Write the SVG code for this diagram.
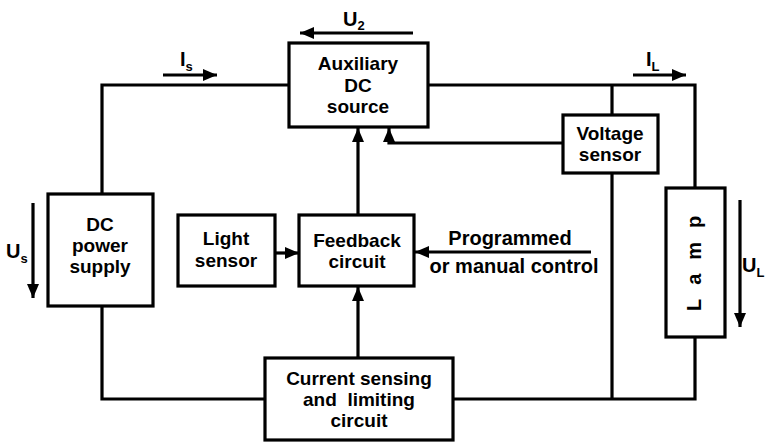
<svg xmlns="http://www.w3.org/2000/svg" width="766" height="442" viewBox="0 0 766 442">
<style>
.box{fill:#fff;stroke:#000;stroke-width:3.2}
.w{fill:none;stroke:#000;stroke-width:3.2}
.t{font-family:"Liberation Sans",Arial,sans-serif;font-weight:bold;font-size:19px;fill:#000;text-anchor:middle}
.l{font-family:"Liberation Sans",Arial,sans-serif;font-weight:bold;font-size:20px;fill:#000}
.sub{font-size:13px}
</style>
<defs>
<marker id="ah" markerUnits="userSpaceOnUse" markerWidth="14" markerHeight="12" refX="14" refY="6" orient="auto">
<path d="M0,0 L14,6 L0,12 z" fill="#000"/>
</marker>
</defs>
<rect width="766" height="442" fill="#fff"/>
<g id="connectors">
<polyline class="w" points="102,193 102,85 289,85"/>
<polyline class="w" points="428,85 695,85 695,188"/>
<line class="w" x1="612" y1="85" x2="612" y2="115"/>
<line class="w" x1="612" y1="173" x2="612" y2="399"/>
<polyline class="w" points="102,306 102,399 265,399"/>
<polyline class="w" points="453,399 695,399 695,337"/>
<polyline class="w" points="563,143 389,143 389,128" marker-end="url(#ah)"/>
<line class="w" x1="358" y1="215" x2="358" y2="128" marker-end="url(#ah)"/>
<line class="w" x1="358" y1="358" x2="358" y2="287" marker-end="url(#ah)"/>
<line class="w" x1="275" y1="253" x2="299" y2="253" marker-end="url(#ah)"/>
<line class="w" x1="591" y1="252" x2="415" y2="252" marker-end="url(#ah)"/>
<line class="w" x1="163" y1="75" x2="217" y2="75" marker-end="url(#ah)"/>
<line class="w" x1="633" y1="75" x2="686" y2="75" marker-end="url(#ah)"/>
<line class="w" x1="413" y1="33" x2="300" y2="33" marker-end="url(#ah)"/>
<line class="w" x1="33" y1="203" x2="33" y2="298" marker-end="url(#ah)"/>
<line class="w" x1="740" y1="200" x2="740" y2="327" marker-end="url(#ah)"/>
</g>
<g id="labels">
<text class="l" x="343" y="26">U<tspan class="sub" dy="4">2</tspan></text>
<text class="l" x="180" y="66">I<tspan class="sub" dy="5">s</tspan></text>
<text class="l" x="646" y="66">I<tspan class="sub" dy="5">L</tspan></text>
<text class="l" x="6" y="258">U<tspan class="sub" dy="5">s</tspan></text>
<text class="l" x="742" y="272">U<tspan class="sub" dy="5">L</tspan></text>
<text class="t" x="510" y="245" style="font-size:20px">Programmed</text>
<text class="t" x="514" y="273" style="font-size:20px">or manual control</text>
</g>
<g id="aux">
<rect class="box" x="289" y="43" width="139" height="84"/>
<text class="t" x="358" y="70">Auxiliary</text>
<text class="t" x="358" y="92">DC</text>
<text class="t" x="358" y="113">source</text>
</g>
<g id="dcpower">
<rect class="box" x="48" y="194" width="105" height="112"/>
<text class="t" x="100" y="231">DC</text>
<text class="t" x="100" y="252">power</text>
<text class="t" x="100" y="273">supply</text>
</g>
<g id="light">
<rect class="box" x="178" y="215" width="97" height="71"/>
<text class="t" x="226" y="245">Light</text>
<text class="t" x="226" y="267">sensor</text>
</g>
<g id="feedback">
<rect class="box" x="299" y="215" width="115" height="71"/>
<text class="t" x="357" y="247">Feedback</text>
<text class="t" x="357" y="268">circuit</text>
</g>
<g id="current">
<rect class="box" x="265" y="358" width="188" height="82"/>
<text class="t" x="359" y="385">Current sensing</text>
<text class="t" x="359" y="406" xml:space="preserve">and  limiting</text>
<text class="t" x="359" y="427">circuit</text>
</g>
<g id="voltage">
<rect class="box" x="563" y="115" width="95" height="58"/>
<text class="t" x="610" y="140">Voltage</text>
<text class="t" x="610" y="161">sensor</text>
</g>
<g id="lamp">
<rect class="box" x="666" y="188" width="59" height="149"/>
<text class="l" transform="translate(701,311) rotate(-90)" letter-spacing="14">Lamp</text>
</g>
</svg>
